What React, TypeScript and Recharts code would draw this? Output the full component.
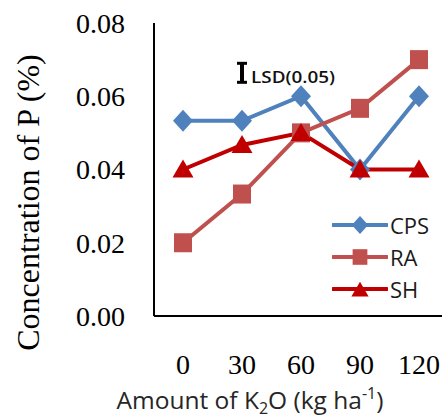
import React from 'react';
import { LineChart, Line, XAxis, YAxis, Legend, ReferenceDot } from 'recharts';

const categories = ['0', '30', '60', '90', '120'];
const cpsValues = [0.0533, 0.0533, 0.06, 0.04, 0.06];
const raValues = [0.02, 0.0333, 0.05, 0.0567, 0.07];
const shValues = [0.04, 0.0467, 0.05, 0.04, 0.04];
const yTicks = [0, 0.02, 0.04, 0.06, 0.08];
const lsdCategory = '30';
const lsdCenter = 0.0664;
const lsdText = 'LSD(0.05)';

const data = categories.map((c, i) => ({ k: c, CPS: cpsValues[i], RA: raValues[i], SH: shValues[i] }));

const COLORS: Record<string, string> = { CPS: '#4F81BD', RA: '#C0504D', SH: '#C00000' };

const Marker = ({ name, cx, cy, s = 1 }: { name: string; cx: number; cy: number; s?: number }) => {
  const c = COLORS[name];
  if (name === 'CPS') {
    return <path d={`M${cx},${cy - 11 * s} L${cx + 10 * s},${cy} L${cx},${cy + 11 * s} L${cx - 10 * s},${cy} Z`} fill={c} />;
  }
  if (name === 'RA') {
    return <rect x={cx - 9 * s} y={cy - 9.5 * s} width={18 * s} height={19 * s} fill={c} />;
  }
  return <path d={`M${cx},${cy - 10 * s} L${cx + 10.5 * s},${cy + 8 * s} L${cx - 10.5 * s},${cy + 8 * s} Z`} fill={c} />;
};

const makeDot = (name: string) => (props: any) => {
  const { cx, cy, index } = props;
  if (cx == null || cy == null) return <g key={`${name}-${index}`} />;
  return (
    <g key={`${name}-${index}`}>
      <Marker name={name} cx={cx} cy={cy} />
    </g>
  );
};

const LegendContent = () => (
  <div style={{ display: 'flex', flexDirection: 'column' }}>
    {['CPS', 'RA', 'SH'].map((n) => (
      <div key={n} style={{ display: 'flex', alignItems: 'center', height: 32 }}>
        <svg width={56} height={32}>
          <line x1={1} y1={16} x2={55} y2={16} stroke={COLORS[n]} strokeWidth={4} strokeLinecap="round" />
          <Marker name={n} cx={28} cy={n === 'SH' ? 17 : 16} s={0.82} />
        </svg>
        <span style={{ fontFamily: 'Open Sans', fontSize: 22, color: '#1a1a1a', marginLeft: 2, lineHeight: '32px' }}>{n}</span>
      </div>
    ))}
  </div>
);

const YLabel = (props: any) => {
  const vb = props.viewBox || {};
  const x = vb.x - 26;
  const y = vb.y + vb.height / 2 + 33;
  return (
    <text x={x} y={y} transform={`rotate(-90, ${x}, ${y})`} textAnchor="middle" dominantBaseline="central"
      fontFamily="Liberation Serif" fontSize={32} fill="#000">
      Concentration of P (%)
    </text>
  );
};

const XLabel = (props: any) => {
  const vb = props.viewBox || {};
  const x = vb.x + 96;
  const y = vb.y + 93;
  return (
    <text x={x} y={y} textAnchor="middle" fontFamily="Open Sans" fontSize={24.5} fill="#262626">
      <tspan>Amount of K</tspan>
      <tspan fontSize={16} dy={5}>2</tspan>
      <tspan dy={-5}>O (kg ha</tspan>
      <tspan fontSize={16} dy={-10}>-1</tspan>
      <tspan dy={10}>)</tspan>
    </text>
  );
};

const LsdShape = (props: any) => {
  const { cx, cy } = props;
  return (
    <g>
      <line x1={cx} y1={cy - 9.5} x2={cx} y2={cy + 9.5} stroke="#000" strokeWidth={4} />
      <line x1={cx - 5} y1={cy - 9.5} x2={cx + 5} y2={cy - 9.5} stroke="#000" strokeWidth={3} />
      <line x1={cx - 5} y1={cy + 9.5} x2={cx + 5} y2={cy + 9.5} stroke="#000" strokeWidth={3} />
      <text x={cx + 9} y={cy + 3.5} dominantBaseline="central" fontFamily="Open Sans" fontWeight={600} fontSize={17}
        textLength={84} lengthAdjust="spacingAndGlyphs" fill="#111">
        {lsdText}
      </text>
    </g>
  );
};

export default function App() {
  return (
    <div style={{ position: 'fixed', left: 0, top: 0, width: 442, height: 419, overflow: 'hidden', background: '#fff' }}>
      <LineChart width={448} height={419} data={data} margin={{ top: 23, right: 0, bottom: 43, left: 54 }}>
        <XAxis
          dataKey="k"
          height={60}
          padding={{ left: 29, right: 29 }}
          axisLine={{ stroke: '#000', strokeWidth: 2 }}
          tickLine={false}
          tickSize={0}
          tickMargin={38}
          tick={{ fontFamily: 'Liberation Serif', fontSize: 28, fill: '#000' }}
          interval={0}
          label={<XLabel />}
        />
        <YAxis
          width={100}
          domain={[0, 0.08]}
          ticks={yTicks}
          tickFormatter={(v: number) => v.toFixed(2)}
          axisLine={{ stroke: '#000', strokeWidth: 2 }}
          tickLine={false}
          tickSize={0}
          tickMargin={29}
          tick={{ fontFamily: 'Liberation Serif', fontSize: 28, fill: '#000' }}
          label={<YLabel />}
        />
        <Legend
          layout="vertical"
          align="center"
          verticalAlign="middle"
          content={<LegendContent />}
          wrapperStyle={{ left: 332, top: 209, width: 110 }}
        />
        <Line dataKey="CPS" stroke={COLORS.CPS} strokeWidth={4} dot={makeDot('CPS')} activeDot={false} isAnimationActive={false} />
        <Line dataKey="RA" stroke={COLORS.RA} strokeWidth={4} dot={makeDot('RA')} activeDot={false} isAnimationActive={false} />
        <Line dataKey="SH" stroke={COLORS.SH} strokeWidth={4} dot={makeDot('SH')} activeDot={false} isAnimationActive={false} />
        <ReferenceDot x={lsdCategory} y={lsdCenter} shape={<LsdShape />} />
      </LineChart>
    </div>
  );
}
